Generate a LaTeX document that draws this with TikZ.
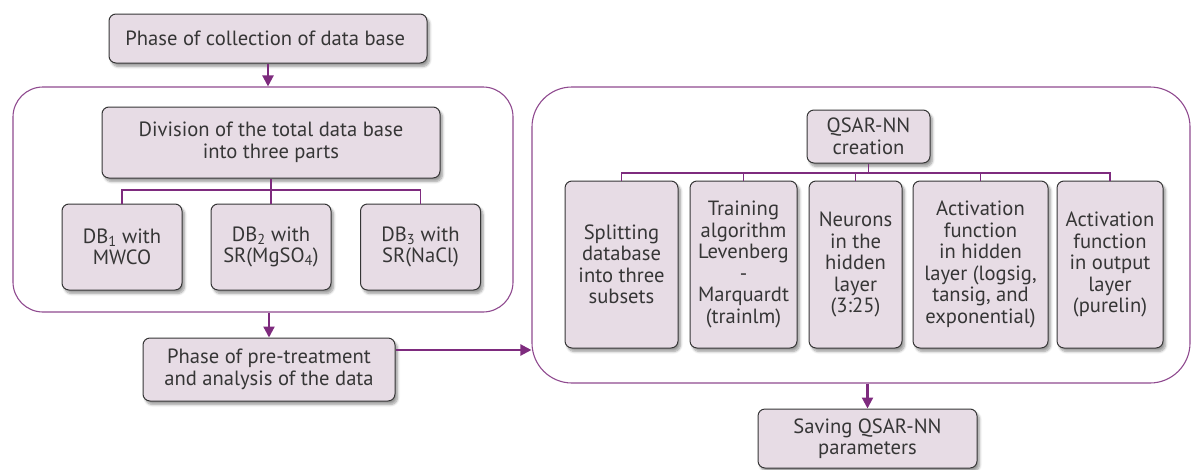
\documentclass[tikz,border=0pt]{standalone}
\usepackage{fontspec}
\setmainfont{PT Sans}
\usepackage{tikz}
\usetikzlibrary{calc,shadows.blur,arrows.meta}
\definecolor{boxfill}{HTML}{E7DCE5}
\definecolor{boxline}{HTML}{363636}
\definecolor{plum}{HTML}{7E2B7E}
\definecolor{frameline}{HTML}{8F4A8F}
\tikzstyle{pinkbox}=[rectangle,rounded corners=7pt,draw=boxline,line width=1pt,
                     fill=boxfill,text=boxline,align=center,inner sep=2pt,
                     font=\fontsize{20.6}{21.5}\selectfont,
                     blur shadow={shadow xshift=2.5pt,shadow yshift=-3.5pt,
                                  shadow blur steps=6,shadow blur radius=2.5pt}]
\tikzstyle{framebox}=[rectangle,rounded corners=30pt,draw=frameline,line width=1.1pt]
\tikzstyle{arrowline}=[draw=plum,line width=2.2pt,-{Triangle[length=11pt,width=11pt]}]
\tikzstyle{branchline}=[draw=plum,line width=1.8pt]
\tikzset{boxdim/.style 2 args={minimum width=#1pt,minimum height=#2pt}}

\begin{document}
\begin{tikzpicture}[x=1pt,y=-1pt]
    	\useasboundingbox (0,0) rectangle (1191,469);
    	% left part
    	\node [framebox,boxdim={500}{225}] (dbframe) at (263,199.5) {};
    	\node [pinkbox,boxdim={318}{49}] (collect) at (268,38.5) {
    		Phase of collection of data base
    	};
    	\node [pinkbox,boxdim={338}{71}] (division) at (271,142.5) {
    		Division of the total data base\\into three parts
    	};
    	\node [pinkbox,boxdim={120}{86}] (db1) at (122,247) {
    		DB\textsubscript{1} with\\MWCO
    	};
    	\node [pinkbox,boxdim={120}{86}] (db2) at (271,247) {
    		DB\textsubscript{2} with\\SR(MgSO\textsubscript{4})
    	};
    	\node [pinkbox,boxdim={120}{86}] (db3) at (420.5,247) {
    		DB\textsubscript{3} with\\SR(NaCl)
    	};
    	\node [pinkbox,boxdim={252}{63}] (pretreat) at (269,369.5) {
    		Phase of pre-treatment\\and analysis of the data
    	};
    	% right part
    	\node [framebox,rounded corners=40pt,boxdim={658}{296}] (nnframe) at (861,235) {};
    	\node [pinkbox,boxdim={123}{53}] (qsar) at (868.5,136.5) {
    		QSAR-NN\\creation
    	};
    	\node [pinkbox,boxdim={113}{167}] (split) at (621.5,264.5) {
    		Splitting\\database\\into three\\subsets
    	};
    	\node [pinkbox,boxdim={107}{167}] (train) at (743.5,264.5) {
    		Training\\algorithm\\Levenberg\\-\\Marquardt\\(trainlm)
    	};
    	\node [pinkbox,boxdim={93}{167}] (neurons) at (855.5,264.5) {
    		Neurons\\in the\\hidden\\layer\\(3:25)
    	};
    	\node [pinkbox,boxdim={135}{167}] (hidden) at (980.5,264.5) {
    		Activation\\function\\in hidden\\layer (logsig,\\tansig, and\\exponential)
    	};
    	\node [pinkbox,boxdim={106}{167}] (output) at (1110,264.5) {
    		Activation\\function\\in output\\layer\\(purelin)
    	};
    	\node [pinkbox,boxdim={219}{59}] (save) at (867.5,438.5) {
    		Saving QSAR-NN\\parameters
    	};
    	% connectors
    	\coordinate (dbbar) at (271,190);
    	\coordinate (nnbar) at (868.5,173);
    	\coordinate (feed) at ([yshift=19.5pt]pretreat.east);
    	\draw [branchline] (division.south) -- (dbbar);
    	\draw [branchline] (db1.north) |- (dbbar) -| (db3.north);
    	\draw [branchline] (db2.north) -- (dbbar);
    	\draw [branchline] (qsar.south) -- (nnbar);
    	\draw [branchline] (split.north) |- (nnbar) -| (output.north);
    	\draw [branchline] (train.north) -- (train.north |- nnbar);
    	\draw [branchline] (neurons.north) -- (neurons.north |- nnbar);
    	\draw [branchline] (hidden.north) -- (hidden.north |- nnbar);
    	\draw [arrowline] (collect.south) -- (collect.south |- dbframe.north);
    	\draw [arrowline] (pretreat.north |- dbframe.south) -- (pretreat.north);
    	\draw [arrowline] (feed) -- (feed -| nnframe.west);
    	\draw [arrowline] (save.north |- nnframe.south) -- (save.north);
    \end{tikzpicture}
\end{document}
